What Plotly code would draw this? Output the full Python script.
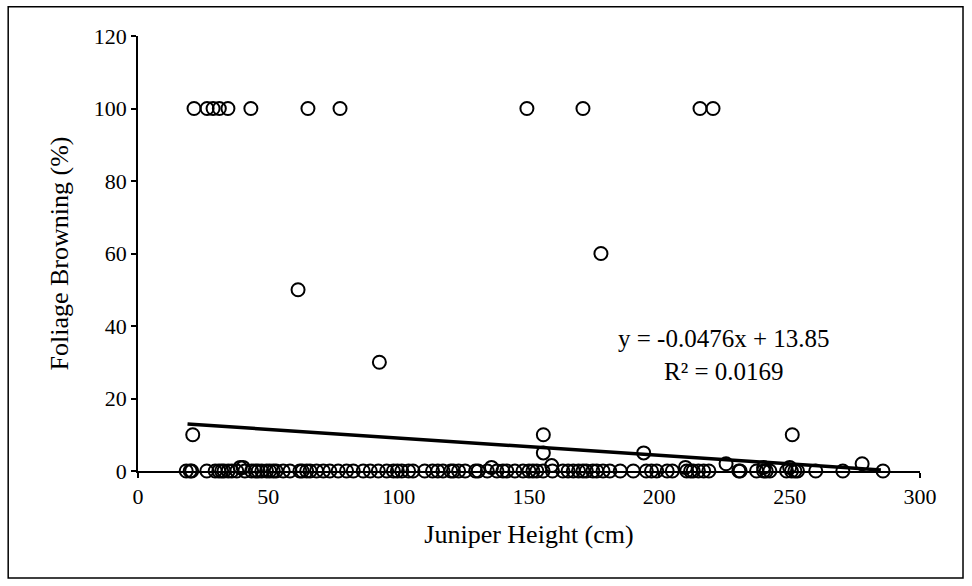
import plotly.graph_objects as go

# Data
x_zero = [18.5, 20, 20.6, 26.4, 29.6, 31, 32.1, 33, 34.6, 36, 37.9, 41, 43.6, 45, 46.1, 47.5,
          49.3, 50.5, 51.9, 53, 55.7, 58.3, 62.1, 63, 64.7, 66, 68.5, 71.1, 73.6, 76.8, 80, 82.6,
          86.4, 89.1, 92.2, 95.4, 98, 99.5, 101.2, 103.8,
          105.5, 110, 113, 115, 117, 120, 121, 123, 125.5, 129.5, 130.5, 134, 137.7, 140, 141.5,
          144.6, 147.7, 150, 151.5, 153, 155.4, 159, 163, 165, 167, 169, 170.7, 172, 174.5, 176,
          178.4, 181, 185, 190, 195, 197, 199, 203,
          205, 210.5, 212, 213, 215, 217, 219, 230.5, 231, 237.3, 240, 241, 242.4, 248.8, 250.7,
          252, 253, 260, 270.4, 285.8]
y_zero = [0] * len(x_zero)

x_hundred = [21.5, 26.5, 28.8, 31.2, 34.5, 43.3, 65.2, 77.5, 149.2, 170.7, 215.6, 220.6]
y_hundred = [100] * len(x_hundred)

x_other = [21, 61.4, 92.6, 177.6, 155.5, 155.5, 194, 251, 225.6, 277.8, 158.7, 135.6, 40.3, 39.2,
           210, 240, 250]
y_other = [10, 50, 30, 60, 10, 5, 5, 10, 2, 2, 1.5, 1, 1, 1, 1, 1, 1]

x_all = x_zero + x_hundred + x_other
y_all = y_zero + y_hundred + y_other

slope = -0.0476
intercept = 13.85
trend_x = [19, 285]
trend_y = [slope * v + intercept for v in trend_x]

x_ticks = [0, 50, 100, 150, 200, 250, 300]
y_ticks = [0, 20, 40, 60, 80, 100, 120]

FONT = "Liberation Serif"

fig = go.Figure()
fig.add_trace(go.Scatter(
    x=x_all, y=y_all, mode="markers",
    marker=dict(symbol="circle-open", size=13, color="black", line=dict(width=2, color="black")),
    cliponaxis=False, showlegend=False,
))
fig.add_trace(go.Scatter(
    x=trend_x, y=trend_y, mode="lines",
    line=dict(color="black", width=3.5), cliponaxis=False, showlegend=False,
))

fig.add_annotation(
    x=224.8, y=32.0, xref="x", yref="y",
    text="y = -0.0476x + 13.85<br>R² = 0.0169",
    showarrow=False, font=dict(family=FONT, size=25, color="black"), align="center",
)

# outer frame
fig.add_shape(type="rect", xref="paper", yref="paper",
              x0=-0.166, x1=1.055, y0=-0.246, y1=1.067,
              line=dict(color="black", width=1.5), fillcolor="rgba(0,0,0,0)")

fig.update_layout(
    width=972, height=586,
    margin=dict(l=138, r=52, t=36, b=115),
    paper_bgcolor="white", plot_bgcolor="white",
    font=dict(family=FONT, size=22, color="black"),
    xaxis=dict(range=[0, 300], tickvals=x_ticks, ticks="outside", ticklen=5, tickwidth=1.5,
               tickcolor="black", showline=True, linecolor="black", linewidth=1.5,
               showgrid=False, zeroline=False,
               title=dict(text="Juniper Height (cm)", font=dict(family=FONT, size=26), standoff=17),
               tickfont=dict(family=FONT, size=22)),
    yaxis=dict(range=[0, 120], tickvals=y_ticks, ticks="outside", ticklen=5, tickwidth=1.5,
               tickcolor="black", showline=True, linecolor="black", linewidth=1.5,
               showgrid=False, zeroline=False,
               title=dict(text="Foliage Browning (%)", font=dict(family=FONT, size=26), standoff=18),
               tickfont=dict(family=FONT, size=22)),
)

fig.write_html("out.html")
